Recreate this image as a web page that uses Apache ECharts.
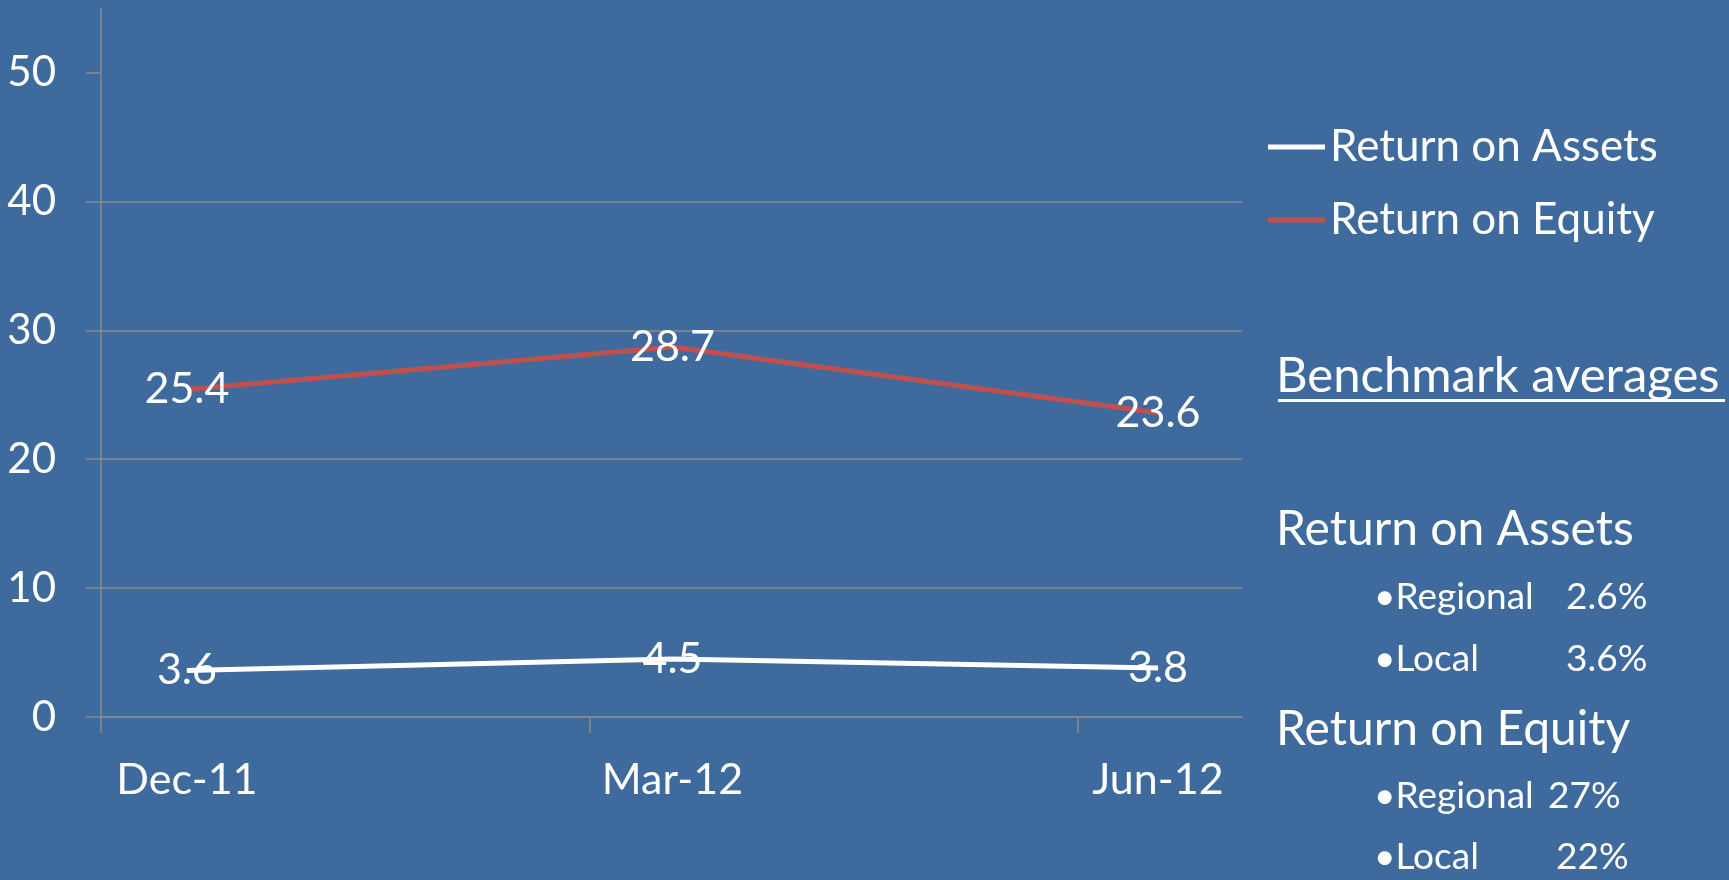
<!DOCTYPE html>
<html>
<head>
<meta charset="utf-8">
<style>
  html, body { margin: 0; padding: 0; background: #3e6a9e; }
  #chart { width: 1729px; height: 880px; }
</style>
<script src="https://cdn.jsdelivr.net/npm/echarts@6/dist/echarts.min.js"></script>
</head>
<body>
<div id="chart"></div>
<script>
// 数据
var categories = ['Dec-11', 'Mar-12', 'Jun-12'];
var roaValues = [3.6, 4.5, 3.8];
var roeValues = [25.4, 28.7, 23.6];
var yTickLabels = [0, 10, 20, 30, 40, 50];
var seriesNames = ['Return on Assets', 'Return on Equity'];
var benchmarkRoa = [['Regional', '2.6%'], ['Local', '3.6%']];
var benchmarkRoe = [['Regional', '27%'], ['Local', '22%']];

var FONT = 'Lato, "Open Sans", sans-serif';
var GRID_COLOR = '#8a8a8a';

var chart = echarts.init(document.getElementById('chart'));

function txt(x, y, text, size) {
  return {
    type: 'text',
    x: x,
    y: y,
    style: {
      text: text,
      fill: '#fff',
      font: size + 'px ' + FONT,
      verticalAlign: 'middle',
      align: 'left'
    }
  };
}

// 右侧 benchmark 文字
var graphics = [
  txt(1276, 376, 'Benchmark averages', 49),
  { type: 'rect', shape: { x: 1278, y: 399, width: 447, height: 3 }, style: { fill: '#fff' } },
  txt(1276, 530, 'Return on Assets', 48),
  txt(1276, 730, 'Return on Equity', 48)
];
var rowY = [[597, 659], [796, 857]];
[benchmarkRoa, benchmarkRoe].forEach(function (rows, g) {
  rows.forEach(function (r, i) {
    graphics.push(txt(1374, rowY[g][i], '\u2022' + r[0], 37));
    var vx = g === 0 ? 1566 : (i === 0 ? 1548 : 1556);
    graphics.push(txt(vx, rowY[g][i], r[1], 37));
  });
});

function makeSeries(name, values, color) {
  return {
    name: name,
    type: 'line',
    data: values.map(function (v, i) { return [i, v]; }),
    symbol: 'circle',
    symbolSize: 1,
    showSymbol: true,
    lineStyle: { color: color, width: 5 },
    itemStyle: { color: color },
    label: {
      show: true,
      position: 'inside',
      color: '#fff',
      fontSize: 43,
      fontFamily: FONT,
      formatter: function (p) { return p.value[1]; }
    }
  };
}

var option = {
  backgroundColor: '#3e6a9e',
  animation: false,
  grid: { left: 101, right: 487, top: 8, bottom: 163, containLabel: false },
  legend: {
    orient: 'vertical',
    left: 1268,
    top: 122,
    padding: 0,
    itemGap: 23,
    itemWidth: 57,
    itemHeight: 5,
    icon: 'rect',
    textStyle: { color: '#fff', fontSize: 44, fontFamily: FONT, lineHeight: 50 },
    data: seriesNames
  },
  xAxis: {
    type: 'value',
    min: -0.177,
    max: 2.173,
    axisLine: { show: true, onZero: false, lineStyle: { color: GRID_COLOR, width: 1.5 } },
    axisTick: {
      show: true,
      length: 16,
      customValues: [-0.177, 0.83, 1.835],
      lineStyle: { color: GRID_COLOR, width: 1.5 }
    },
    axisLabel: {
      customValues: [0, 1, 2],
      formatter: function (v) { return categories[Math.round(v)]; },
      color: '#fff',
      fontSize: 43,
      fontFamily: FONT,
      margin: 42
    },
    splitLine: { show: false }
  },
  yAxis: {
    type: 'value',
    min: 0,
    max: 55,
    interval: 10,
    axisLine: { show: true, onZero: false, lineStyle: { color: GRID_COLOR, width: 1.5 } },
    axisTick: {
      show: true,
      length: 15,
      customValues: yTickLabels,
      lineStyle: { color: GRID_COLOR, width: 1.5 }
    },
    axisLabel: {
      customValues: yTickLabels,
      color: '#fff',
      fontSize: 42,
      fontFamily: FONT,
      margin: 45
    },
    splitLine: {
      show: true,
      showMaxLine: false,
      lineStyle: { color: GRID_COLOR, width: 1.5 }
    }
  },
  series: [
    makeSeries(seriesNames[0], roaValues, '#ffffff'),
    makeSeries(seriesNames[1], roeValues, '#c0504d')
  ],
  graphic: graphics
};

chart.setOption(option);
</script>
</body>
</html>
